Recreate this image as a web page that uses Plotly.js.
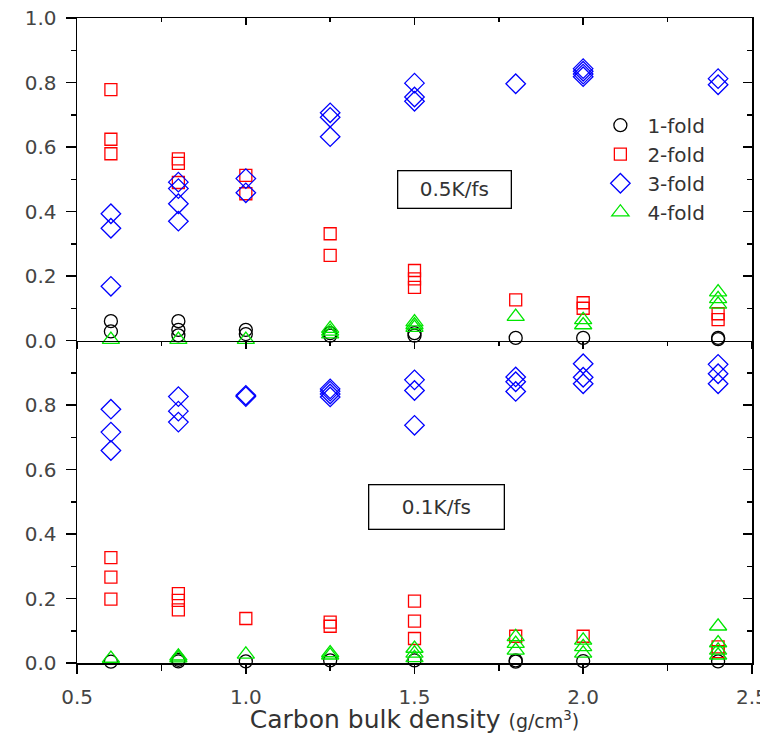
<!DOCTYPE html>
<html>
<head>
<meta charset="utf-8">
<script src="https://cdn.plot.ly/plotly-3.0.1.min.js"></script>
<style>html,body{margin:0;padding:0;background:#fff;}#chart{width:760px;height:734px;}</style>
</head>
<body>
<div id="chart"></div>
<script>
// ---- Labels and ticks ----
const seriesNames = ["1-fold", "2-fold", "3-fold", "4-fold"];
const xTicks = [0.5, 1.0, 1.5, 2.0, 2.5];
const xTickText = ["0.5", "1.0", "1.5", "2.0", "2.5"];
const yTicksTop = [0, 0.2, 0.4, 0.6, 0.8, 1.0];
const yTickTextTop = ["0.0", "0.2", "0.4", "0.6", "0.8", "1.0"];
const yTicksBottom = [0, 0.2, 0.4, 0.6, 0.8];
const yTickTextBottom = ["0.0", "0.2", "0.4", "0.6", "0.8"];

// ---- Data: 0.5 K/fs (top panel) ----
const fast1X = [0.6, 0.6, 0.8, 0.8, 0.8, 1.0, 1.0, 1.25, 1.25, 1.5, 1.5, 1.8, 2.0, 2.4, 2.4];
const fast1Y = [0.060, 0.028, 0.060, 0.033, 0.016, 0.033, 0.020, 0.023, 0.015, 0.023, 0.015, 0.008, 0.008, 0.008, 0.004];
const fast2X = [0.6, 0.6, 0.6, 0.8, 0.8, 0.8, 1.0, 1.0, 1.25, 1.25, 1.5, 1.5, 1.5, 1.8, 2.0, 2.0, 2.4, 2.4];
const fast2Y = [0.778, 0.624, 0.579, 0.563, 0.549, 0.490, 0.512, 0.455, 0.331, 0.264, 0.217, 0.191, 0.165, 0.126, 0.117, 0.100, 0.083, 0.065];
const fast3X = [0.6, 0.6, 0.6, 0.8, 0.8, 0.8, 0.8, 1.0, 1.0, 1.25, 1.25, 1.25, 1.5, 1.5, 1.5, 1.8, 2.0, 2.0, 2.0, 2.0, 2.4, 2.4];
const fast3Y = [0.393, 0.348, 0.168, 0.491, 0.471, 0.424, 0.370, 0.502, 0.458, 0.706, 0.692, 0.632, 0.798, 0.755, 0.742, 0.796, 0.843, 0.835, 0.826, 0.818, 0.812, 0.793];
const fast4X = [0.6, 0.8, 1.0, 1.25, 1.25, 1.25, 1.5, 1.5, 1.5, 1.8, 2.0, 2.0, 2.4, 2.4, 2.4];
const fast4Y = [0.003, 0.003, 0.003, 0.037, 0.028, 0.020, 0.057, 0.048, 0.040, 0.074, 0.064, 0.048, 0.150, 0.129, 0.112];

// ---- Data: 0.1 K/fs (bottom panel) ----
const slow1X = [0.6, 0.8, 0.8, 1.0, 1.25, 1.5, 1.8, 1.8, 2.0, 2.4];
const slow1Y = [0.004, 0.010, 0.005, 0.005, 0.008, 0.008, 0.008, 0.004, 0.006, 0.005];
const slow2X = [0.6, 0.6, 0.6, 0.8, 0.8, 0.8, 1.0, 1.25, 1.25, 1.5, 1.5, 1.5, 1.8, 2.0, 2.4, 2.4];
const slow2Y = [0.327, 0.266, 0.198, 0.215, 0.194, 0.165, 0.138, 0.127, 0.114, 0.192, 0.130, 0.076, 0.083, 0.083, 0.050, 0.035];
const slow3X = [0.6, 0.6, 0.6, 0.8, 0.8, 0.8, 1.0, 1.0, 1.25, 1.25, 1.25, 1.25, 1.5, 1.5, 1.5, 1.8, 1.8, 1.8, 2.0, 2.0, 2.0, 2.4, 2.4, 2.4];
const slow3Y = [0.787, 0.716, 0.659, 0.826, 0.781, 0.747, 0.830, 0.826, 0.850, 0.843, 0.834, 0.825, 0.878, 0.845, 0.737, 0.887, 0.872, 0.842, 0.928, 0.886, 0.866, 0.926, 0.897, 0.866];
const slow4X = [0.6, 0.8, 0.8, 1.0, 1.25, 1.25, 1.5, 1.5, 1.5, 1.8, 1.8, 1.8, 2.0, 2.0, 2.0, 2.4, 2.4, 2.4, 2.4];
const slow4Y = [0.014, 0.021, 0.015, 0.027, 0.031, 0.024, 0.045, 0.030, 0.016, 0.081, 0.060, 0.039, 0.070, 0.050, 0.030, 0.114, 0.062, 0.039, 0.024];

const styles = [
  {symbol: "circle-open", color: "#000000", size: 13},
  {symbol: "square-open", color: "#ff0000", size: 12},
  {symbol: "diamond-open", color: "#0000ff", size: 15},
  {symbol: "triangle-up-open", color: "#00e600", size: 15}
];

const topX = [fast1X, fast2X, fast3X, fast4X];
const topY = [fast1Y, fast2Y, fast3Y, fast4Y];
const botX = [slow1X, slow2X, slow3X, slow4X];
const botY = [slow1Y, slow2Y, slow3Y, slow4Y];

const traces = [];
for (let i = 0; i < 4; i++) {
  traces.push({
    x: topX[i], y: topY[i], type: "scatter", mode: "markers",
    name: seriesNames[i], xaxis: "x2", yaxis: "y2",
    legendgroup: "g" + i, showlegend: true,
    marker: {symbol: styles[i].symbol, size: styles[i].size, color: styles[i].color, line: {width: 1.3, color: styles[i].color}},
    cliponaxis: false
  });
}
for (let i = 0; i < 4; i++) {
  traces.push({
    x: botX[i], y: botY[i], type: "scatter", mode: "markers",
    name: seriesNames[i], xaxis: "x", yaxis: "y",
    legendgroup: "g" + i, showlegend: false,
    marker: {symbol: styles[i].symbol, size: styles[i].size, color: styles[i].color, line: {width: 1.3, color: styles[i].color}},
    cliponaxis: false
  });
}
// empty helper traces so the frame axes (top / right, inward ticks) get drawn
[["x3", "y2"], ["x2", "y3"], ["x", "y4"]].forEach(function (p) {
  traces.push({x: [], y: [], type: "scatter", mode: "markers", xaxis: p[0], yaxis: p[1], showlegend: false, hoverinfo: "skip"});
});

const tickFont = {family: "DejaVu Sans, sans-serif", size: 20, color: "#444"};
const axBase = {showline: true, linecolor: "#000", linewidth: 1.5, showgrid: false, zeroline: false, tickcolor: "#000", tickwidth: 1.5};
const xRange = [0.4995, 2.5005];

const layout = {
  width: 760, height: 734,
  margin: {l: 77, r: 8, t: 18, b: 71},
  paper_bgcolor: "#fff", plot_bgcolor: "#fff",
  showlegend: true,
  legend: {
    x: 0.765, y: 0.864, xanchor: "left", yanchor: "top",
    font: {family: "DejaVu Sans, sans-serif", size: 20, color: "#333"},
    bgcolor: "rgba(0,0,0,0)", tracegroupgap: 0, itemwidth: 44
  },
  xaxis: Object.assign({}, axBase, {
    range: xRange, anchor: "y", tickmode: "array", tickvals: xTicks, ticktext: xTickText,
    ticks: "outside", ticklen: 9, tickfont: tickFont, ticklabelstandoff: 6, ticklabeloverflow: "allow",
    minor: {dtick: 0.25, tick0: 0.5, ticks: "outside", ticklen: 6, tickwidth: 1.5, tickcolor: "#000"},
    title: {text: 'Carbon bulk density <span style="font-size:19px">(g/cm<sup>3</sup>)</span>', font: {family: "DejaVu Sans, sans-serif", size: 25, color: "#333"}, standoff: 2}
  }),
  xaxis2: Object.assign({}, axBase, {
    range: xRange, anchor: "y2", tickmode: "array", tickvals: xTicks, showticklabels: false,
    ticks: "outside", ticklen: 7,
    minor: {dtick: 0.25, tick0: 0.5, ticks: "outside", ticklen: 4, tickwidth: 1.5, tickcolor: "#000"}
  }),
  xaxis3: Object.assign({}, axBase, {
    range: xRange, anchor: "y2", overlaying: "x2", side: "top", tickmode: "array", tickvals: xTicks, showticklabels: false,
    ticks: "inside", ticklen: 7,
    minor: {dtick: 0.25, tick0: 0.5, ticks: "inside", ticklen: 4, tickwidth: 1.5, tickcolor: "#000"}
  }),
  yaxis: Object.assign({}, axBase, {
    domain: [0, 0.5], range: [0, 1], anchor: "x", tickmode: "array", tickvals: yTicksBottom, ticktext: yTickTextBottom,
    ticks: "outside", ticklen: 10, tickfont: tickFont, ticklabelstandoff: 5,
    minor: {dtick: 0.1, tick0: 0, ticks: "outside", ticklen: 5, tickwidth: 1.5, tickcolor: "#000"}
  }),
  yaxis2: Object.assign({}, axBase, {
    domain: [0.5, 1], range: [0, 1], anchor: "x2", tickmode: "array", tickvals: yTicksTop, ticktext: yTickTextTop,
    ticks: "outside", ticklen: 10, tickfont: tickFont, ticklabelstandoff: 5,
    minor: {dtick: 0.1, tick0: 0, ticks: "outside", ticklen: 5, tickwidth: 1.5, tickcolor: "#000"}
  }),
  yaxis3: Object.assign({}, axBase, {
    domain: [0.5, 1], range: [0, 1], anchor: "x2", overlaying: "y2", side: "right", tickmode: "array", tickvals: yTicksTop, showticklabels: false,
    ticks: "inside", ticklen: 9,
    minor: {dtick: 0.1, tick0: 0, ticks: "inside", ticklen: 5, tickwidth: 1.5, tickcolor: "#000"}
  }),
  yaxis4: Object.assign({}, axBase, {
    domain: [0, 0.5], range: [0, 1], anchor: "x", overlaying: "y", side: "right", tickmode: "array", tickvals: yTicksBottom, showticklabels: false,
    ticks: "inside", ticklen: 9,
    minor: {dtick: 0.1, tick0: 0, ticks: "inside", ticklen: 5, tickwidth: 1.5, tickcolor: "#000"}
  }),
  annotations: [
    {xref: "x2", yref: "y2", x: 1.62, y: 0.468, text: "0.5K/fs", showarrow: false,
     font: {family: "DejaVu Sans, sans-serif", size: 20, color: "#333"},
     bordercolor: "#000", borderwidth: 1.3, borderpad: 2, width: 108, height: 32, bgcolor: "#fff"},
    {xref: "x", yref: "y", x: 1.564, y: 0.484, text: "0.1K/fs", showarrow: false,
     font: {family: "DejaVu Sans, sans-serif", size: 20, color: "#333"},
     bordercolor: "#000", borderwidth: 1.3, borderpad: 2, width: 130, height: 39, bgcolor: "#fff"}
  ]
};

Plotly.newPlot("chart", traces, layout, {displayModeBar: false, staticPlot: true});
</script>
</body>
</html>
